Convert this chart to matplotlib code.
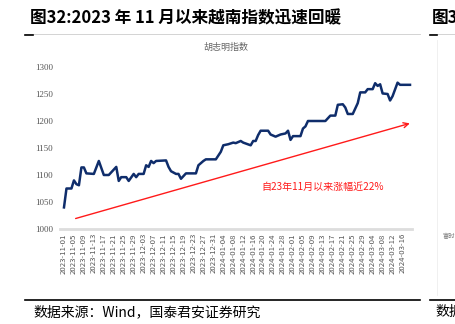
import matplotlib
matplotlib.use("Agg")
import matplotlib.pyplot as plt
import matplotlib.dates as mdates
import pandas as pd

plt.rcParams['font.family'] = ['Noto Sans CJK SC', 'DejaVu Sans']

# data (day offset from 2023-11-01, index level)
days = [0, 1, 3, 4, 5, 6, 7, 8, 9, 12, 14, 16, 18, 21, 22, 23, 25, 26, 28, 29,
        30, 32, 33, 34, 35, 36, 37, 41, 42, 43, 45, 46, 47, 49, 53, 54, 56, 57,
        61, 63, 64, 66, 68, 69, 71, 72, 75, 76, 77, 78, 79, 82, 83, 85, 87, 89,
        90, 91, 92, 95, 96, 97, 98, 105, 107, 109, 110, 112, 113, 114, 116, 118,
        119, 121, 122, 124, 125, 126, 127, 128, 130, 131, 132, 134, 135, 139]
values = [1040, 1075, 1075, 1090, 1083, 1081, 1114, 1114, 1103, 1102, 1126, 1100,
          1100, 1115, 1089, 1096, 1096, 1089, 1102, 1096, 1102, 1102, 1118, 1115,
          1126, 1122, 1126, 1127, 1115, 1107, 1102, 1102, 1093, 1103, 1103, 1118,
          1126, 1129, 1129, 1143, 1155, 1157, 1160, 1159, 1163, 1160, 1155, 1163,
          1163, 1174, 1182, 1182, 1175, 1171, 1175, 1177, 1182, 1165, 1172, 1172,
          1186, 1190, 1200, 1200, 1210, 1210, 1230, 1231, 1225, 1213, 1213, 1233,
          1253, 1253, 1259, 1259, 1270, 1265, 1268, 1251, 1250, 1238, 1246, 1271,
          1267, 1267]
start = pd.Timestamp('2023-11-01')
dates = [start + pd.Timedelta(days=d) for d in days]

tick_dates = pd.date_range('2023-11-01', '2024-03-16', freq='4D')
y_ticks = [1000, 1050, 1100, 1150, 1200, 1250, 1300]

title = '图32:2023 年 11 月以来越南指数迅速回暖'
series_name = '胡志明指数'
note = '自23年11月以来涨幅近22%'
source = '数据来源：Wind，国泰君安证券研究'

fig = plt.figure(figsize=(4.56, 3.24), dpi=100)
ax = fig.add_axes([60/456, 1 - 229/324, 352/456, 162/324])

ax.plot(dates, values, color='#0f2d6b', lw=1.8, solid_joinstyle='round')

# trend arrow
ax.annotate('', xy=(start + pd.Timedelta(days=140), 1197),
            xytext=(start + pd.Timedelta(days=3.6), 1018),
            arrowprops=dict(arrowstyle='->', color='#ff1a1a', lw=1.0,
                            mutation_scale=9))
ax.text(start + pd.Timedelta(days=104), 1078, note, color='#ff1a1a',
        fontsize=7.2, ha='center', va='center')

ax.set_xlim(start - pd.Timedelta(days=1.6), start + pd.Timedelta(days=139.8))
ax.set_ylim(1000, 1300)
ax.set_xticks(tick_dates)
ax.xaxis.set_major_formatter(mdates.DateFormatter('%Y-%m-%d'))
ax.set_yticks(y_ticks)
ax.tick_params(axis='both', length=0, colors='#555555')
ax.tick_params(axis='x', labelsize=5.6, rotation=90, pad=3)
ax.tick_params(axis='y', labelsize=6.5, pad=5)
for lab in ax.get_yticklabels():
    lab.set_family('Liberation Serif')
for s in ['top', 'right', 'left']:
    ax.spines[s].set_visible(False)
ax.spines['bottom'].set_color('#dddddd')
ax.spines['bottom'].set_linewidth(2)

# header / footer
fig.text(30/456, 1 - 18/324, title, fontsize=12, fontweight='bold',
         ha='left', va='center')
fig.text(432/456, 1 - 18/324, '图3', fontsize=12, fontweight='bold',
         ha='left', va='center')
fig.text(226/456, 1 - 47/324, series_name, fontsize=6.5, color='#666666',
         ha='center', va='center')
fig.add_artist(plt.Line2D([25/456, 420/456], [1 - 34/324] * 2, color='#cccccc', lw=0.6))
fig.add_artist(plt.Line2D([25/456, 33/456], [1 - 35/324] * 2, color='black', lw=1.2))
fig.add_artist(plt.Line2D([430/456, 1], [1 - 34/324] * 2, color='#cccccc', lw=0.6))
fig.add_artist(plt.Line2D([430/456, 437/456], [1 - 35/324] * 2, color='black', lw=1.2))
fig.add_artist(plt.Line2D([437/456, 437/456], [1 - 295/324, 1 - 40/324], color='#eeeeee', lw=0.6))
fig.text(443/456, 1 - 236/324, '富时', fontsize=4.5, color='#777777', ha='left', va='center')
fig.add_artist(plt.Line2D([25/456, 420/456], [1 - 300/324] * 2, color='black', lw=1.2))
fig.add_artist(plt.Line2D([430/456, 1], [1 - 300/324] * 2, color='black', lw=1.2))
fig.text(33/456, 1 - 312/324, source, fontsize=10, ha='left', va='center')
fig.text(435/456, 1 - 312/324, '数据', fontsize=10, ha='left', va='center')

fig.savefig('out.png', dpi=100)
